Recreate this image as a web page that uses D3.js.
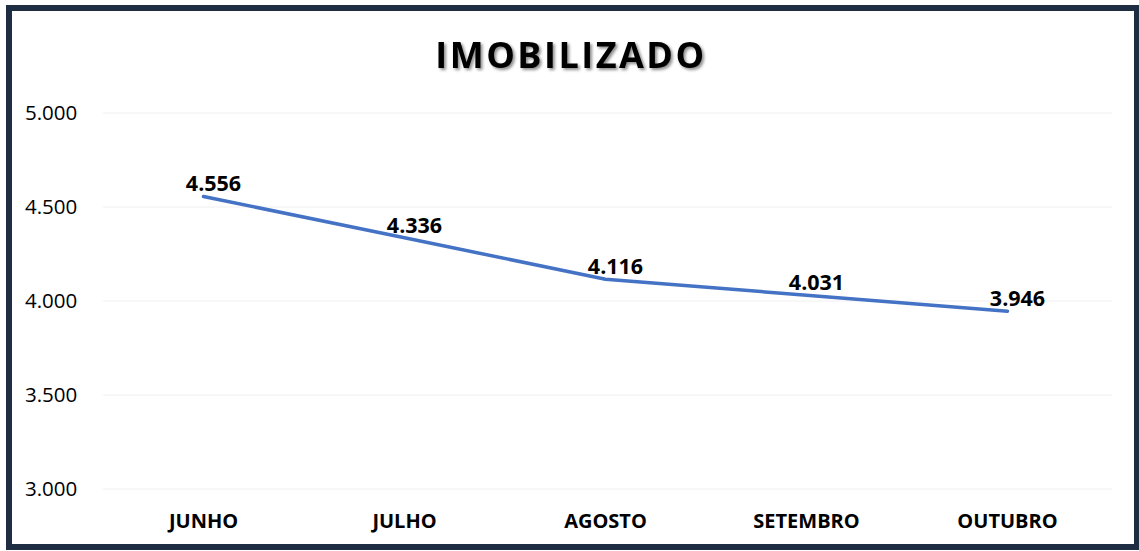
<!DOCTYPE html>
<html>
<head>
  <meta charset="utf-8">
  <title>Imobilizado</title>
  <script src="https://d3js.org/d3.v7.min.js"></script>
  <style>
    body { margin: 0; background: #fff; }
    .tick text { font-family: "Open Sans", sans-serif; }
  </style>
</head>
<body>
<div id="output"></div>

<script type="text/javascript">

  var months = ["JUNHO", "JULHO", "AGOSTO", "SETEMBRO", "OUTUBRO"];
  var values = [4556, 4336, 4116, 4031, 3946];
  var yTicks = [3000, 3500, 4000, 4500, 5000];
  var title = "IMOBILIZADO";

  var w = 1139;
  var h = 551;

  var margin = {top: 113, right: 31, bottom: 62, left: 103},
      wChart = w - margin.left - margin.right,
      hChart = h - margin.top - margin.bottom;

  var fmt = function(v){ return d3.format(",.0f")(v).replace(/,/g, "."); };

  var x = d3.scaleBand()
          .domain(months)
          .range([0, wChart]);

  var y = d3.scaleLinear()
          .domain([3000, 5000])
          .range([hChart, 0]);

  var svg = d3.select("#output").append("svg")
          .attr("width", w)
          .attr("height", h);

  var defs = svg.append("defs");
  var shadow = defs.append("filter").attr("id", "shadow")
          .attr("x", "-10%").attr("y", "-30%").attr("width", "120%").attr("height", "160%");
  shadow.append("feDropShadow")
          .attr("dx", 2).attr("dy", 2).attr("stdDeviation", 1.5)
          .attr("flood-color", "#000").attr("flood-opacity", 0.45);

  // frame
  svg.append("rect")
          .attr("x", 9).attr("y", 8)
          .attr("width", 1128).attr("height", 539)
          .attr("fill", "#fff")
          .attr("stroke", "#1f2d42")
          .attr("stroke-width", 6);

  svg.append("text")
          .attr("x", 571).attr("y", 68)
          .attr("text-anchor", "middle")
          .attr("font-family", "Open Sans, sans-serif")
          .attr("font-weight", "bold")
          .attr("font-size", 36)
          .attr("letter-spacing", 2.5)
          .attr("fill", "#000")
          .attr("filter", "url(#shadow)")
          .text(title);

  var chart = svg.append("g")
          .attr("transform", "translate(" + margin.left + "," + margin.top + ")");

  // gridlines
  chart.selectAll(".grid")
          .data(yTicks)
          .enter()
          .append("line")
          .attr("class", "grid")
          .attr("x1", 0).attr("x2", wChart + 4)
          .attr("y1", function(d){ return y(d); })
          .attr("y2", function(d){ return y(d); })
          .attr("stroke", "#f0f0f0")
          .attr("stroke-width", 1);

  var yAxis = d3.axisLeft(y)
          .tickValues(yTicks)
          .tickSize(0)
          .tickPadding(0)
          .tickFormat(fmt);

  var yg = chart.append("g").call(yAxis);
  yg.select(".domain").remove();
  yg.selectAll("text")
          .attr("text-anchor", "start")
          .attr("x", 25 - margin.left)
          .attr("font-size", 20.5)
          .attr("fill", "#000");

  var xAxis = d3.axisBottom(x).tickSize(0).tickPadding(0);
  var xg = chart.append("g")
          .attr("transform", "translate(0," + hChart + ")")
          .call(xAxis);
  xg.select(".domain").remove();
  xg.selectAll("text")
          .attr("y", 32)
          .attr("dy", "0.35em")
          .attr("font-size", 20)
          .attr("font-weight", "bold")
          .attr("fill", "#000");

  var line = d3.line()
          .x(function(d, i){ return x(months[i]) + x.bandwidth() / 2; })
          .y(function(d){ return y(d); });

  chart.append("path")
          .datum(values)
          .attr("d", line)
          .attr("fill", "none")
          .attr("stroke", "#4472C4")
          .attr("stroke-width", 3.5)
          .attr("stroke-linecap", "round")
          .attr("stroke-linejoin", "round");

  chart.selectAll(".lbl")
          .data(values)
          .enter()
          .append("text")
          .attr("class", "lbl")
          .attr("x", function(d, i){ return x(months[i]) + x.bandwidth() / 2 + 10; })
          .attr("y", function(d){ return y(d) - 5; })
          .attr("text-anchor", "middle")
          .attr("font-family", "Open Sans, sans-serif")
          .attr("font-weight", "bold")
          .attr("font-size", 21.5)
          .attr("fill", "#000")
          .text(fmt);

</script>
</body>
</html>
